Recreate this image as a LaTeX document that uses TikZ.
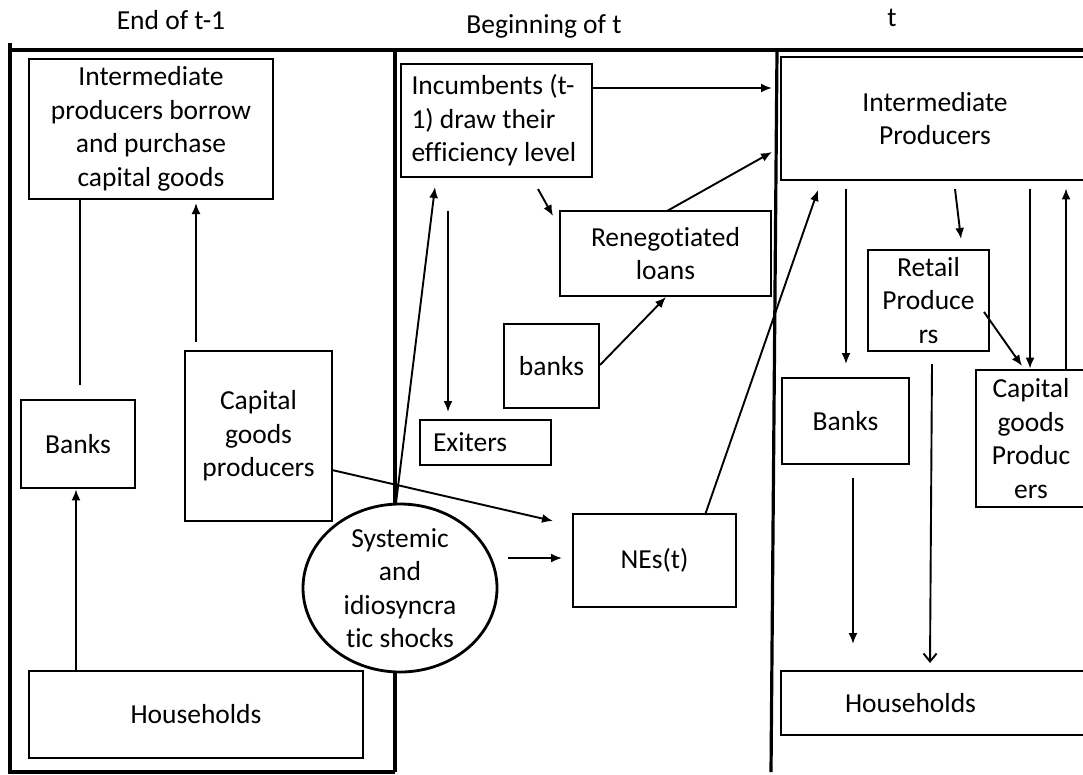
\documentclass[tikz,border=0pt]{standalone}
\usepackage{fontspec}
\setmainfont{Carlito}[Ligatures=NoCommon]
\usetikzlibrary{arrows.meta,shapes.geometric}
\newcommand\myfs{\fontsize{27.5}{33.5}\selectfont}
\begin{document}
\begin{tikzpicture}[x=1pt,y=-1pt,
  box/.style={draw, line width=2.8pt, inner sep=0pt, font=\myfs, align=center},
  frameline/.style={line width=3.2pt},
  arr/.style={line width=1.9pt, -{Latex[length=11pt,width=9pt]}},
  plainline/.style={line width=1.9pt},
  openarr/.style={line width=1.9pt, -{Straight Barb[length=8pt,width=13pt]}},
  title/.style={font=\myfs, inner sep=0pt}
]
\useasboundingbox (0,0) rectangle (1083,774);

% frame and column dividers
\draw[frameline] (10,43) -- (10,772) -- (395,772);
\draw[frameline] (8,50) -- (1092,50);
\draw[frameline] (395,50) -- (395,772);
\draw[frameline] (777,50) -- (771,772);

% titles
\node[title] (t1) at (171,20) {End of t-1};
\node[title] (t2) at (544,26) {Beginning of t};
\node[title] (t3) at (892,18) {t};

% column 1
\node[box, minimum width=244, minimum height=140] (ipL) at (151,129) {Intermediate\\producers borrow\\and purchase\\capital goods};
\node[box, minimum width=114, minimum height=88] (bkL) at (78,444) {Banks};
\node[box, minimum width=147, minimum height=170] (cgL) at (258.5,436) {Capital\\goods\\producers};
\node[box, minimum width=334, minimum height=87] (hhL) at (196,714.5) {Households};

% column 2
\node[box, minimum width=191, minimum height=113, text width=170, align=flush left] (inc) at (496.5,120.5) {Incumbents (t-\\1) draw their\\efficiency level};
\node[box, minimum width=211, minimum height=85] (ren) at (665.5,253.5) {Renegotiated\\loans};
\node[box, minimum width=95, minimum height=84] (bkM) at (551.5,366) {banks};
\node[box, minimum width=131, minimum height=45, text width=105, align=flush left] (exi) at (485.5,442.5) {Exiters};
\node[box, minimum width=163, minimum height=93] (nes) at (654.5,560.5) {NEs(t)};
\node[draw, line width=2.8pt, fill=white, ellipse, minimum width=194, minimum height=168, inner sep=0pt,
  label={[font=\myfs, align=center, inner sep=0pt]center:Systemic\\and\\idiosyncra\\tic shocks}] (shk) at (400,588) {};

% column 3
\node[box, minimum width=308, minimum height=123] (ipR) at (935,118.5) {Intermediate\\Producers};
\node[box, minimum width=121, minimum height=101] (ret) at (928.5,300.5) {Retail\\Produce\\rs};
\node[box, minimum width=127, minimum height=86] (bkR) at (845.5,421) {Banks};
\node[box, minimum width=110, minimum height=137] (cgR) at (1031,438.5) {Capital\\goods\\Produc\\ers};
\node[box, minimum width=320, minimum height=64, text width=192, align=flush left, inner xsep=64pt] (hhR) at (941,703) {Households};

% free connector ends
\coordinate (c1) at (80,385);
\coordinate (c2a) at (196,342);
\coordinate (c2b) at (196,203);
\coordinate (c3) at (76,0);
\coordinate (c4a) at (332,470);
\coordinate (c4b) at (553,521);
\coordinate (c5a) at (396,503);
\coordinate (c5b) at (435,187);
\coordinate (c6a) at (508,558);
\coordinate (c6b) at (562,558);
\coordinate (c7a) at (705,515);
\coordinate (c7b) at (818,190);
\coordinate (c8b) at (772,88);
\coordinate (c9a) at (538,189);
\coordinate (c9b) at (553,216);
\coordinate (c10a) at (448,211);
\coordinate (c10b) at (448,412);
\coordinate (c11a) at (600,365);
\coordinate (c11b) at (666,297);
\coordinate (c12a) at (667,211);
\coordinate (c12b) at (772,152);
\coordinate (c13a) at (846,189);
\coordinate (c13b) at (846,364);
\coordinate (c14a) at (955,189);
\coordinate (c14b) at (961,239);
\coordinate (c15a) at (984,312);
\coordinate (c15b) at (1022,366);
\coordinate (c16a) at (1030,189);
\coordinate (c17) at (1066,0);
\coordinate (c18a) at (853,478);
\coordinate (c18b) at (853,644);
\coordinate (c19a) at (932,364);
\coordinate (c19b) at (930,663);

% connectors
\draw[plainline] (c1) -- (c1 |- ipL.south);
\draw[arr] (c2a) -- (c2b);
\draw[arr] (c3 |- hhL.north) -- (c3 |- bkL.south);
\draw[arr] (c4a) -- (c4b);
\draw[arr] (c5a) -- (c5b);
\draw[arr] (c6a) -- (c6b);
\draw[arr] (c7a) -- (c7b);
\draw[arr] (inc.east |- c8b) -- (c8b);
\draw[arr] (c9a) -- (c9b);
\draw[arr] (c10a) -- (c10b);
\draw[arr] (c11a) -- (c11b);
\draw[arr] (c12a) -- (c12b);
\draw[arr] (c13a) -- (c13b);
\draw[arr] (c14a) -- (c14b);
\draw[arr] (c15a) -- (c15b);
\draw[arr] (c16a) -- (c16a |- cgR.north);
\draw[arr] (c17 |- cgR.north) -- ([yshift=-7pt]c17 |- ipR.south);
\draw[arr] (c18a) -- (c18b);
\draw[openarr] (c19a) -- (c19b);
\end{tikzpicture}
\end{document}
